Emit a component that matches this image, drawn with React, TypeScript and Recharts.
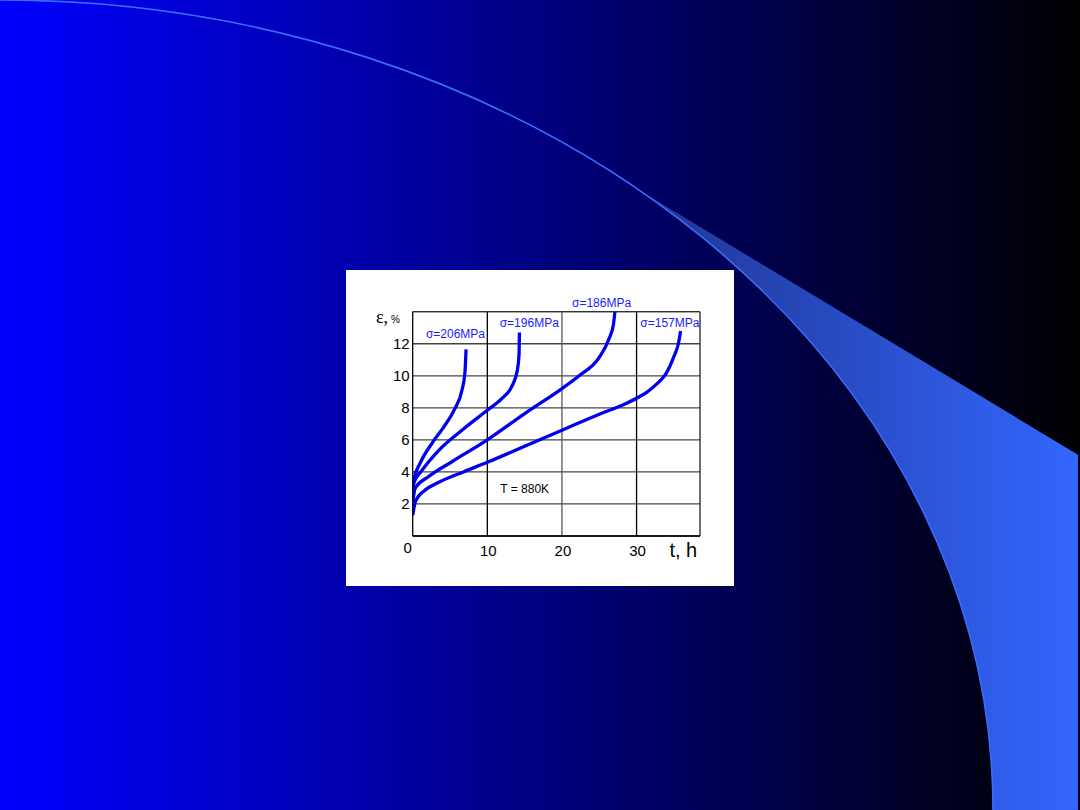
import React from 'react';
import { LineChart, Line, XAxis, YAxis, CartesianGrid, ReferenceLine, ReferenceDot } from 'recharts';

// creep curves at T = 880K: time t (h) vs strain eps (%)
const t206 = [0, 0.13, 1.0, 2.6, 4.15, 5.6, 6.6, 7.0, 7.15];
const e206 = [2.8, 3.5, 4.55, 5.8, 6.8, 7.9, 9.1, 10.2, 11.65];

const t196 = [0, 0.15, 1.25, 3.5, 6.6, 10, 12, 13.3, 14.0, 14.25, 14.3];
const e196 = [2.6, 3.3, 4.1, 5.35, 6.6, 7.85, 8.6, 9.35, 10.3, 11.3, 12.7];

const t186 = [0, 0.35, 2.1, 5.3, 10, 15.2, 20, 22.3, 25, 26.3, 26.9, 27.1];
const e186 = [2.1, 3.0, 3.7, 4.65, 6.0, 7.7, 9.2, 10.0, 11.15, 12.3, 13.2, 14.0];

const t157 = [0, 0.4, 1.5, 3.5, 6.8, 10, 15, 20, 25, 28, 30, 31.3, 32.6, 33.9, 35, 35.6, 35.9];
const e157 = [1.3, 2.2, 2.8, 3.35, 4.0, 4.6, 5.6, 6.6, 7.6, 8.15, 8.6, 8.95, 9.45, 10.1, 11.2, 12.0, 12.8];

const xTicks = [0, 10, 20, 30];
const yTicks = [2, 4, 6, 8, 10, 12];
const xGrid = [10, 20, 30];

const toRows = (t: number[], e: number[]) => t.map((v, i) => ({ t: v, e: e[i] }));

const series = [
  { name: '206', data: toRows(t206, e206) },
  { name: '196', data: toRows(t196, e196) },
  { name: '186', data: toRows(t186, e186) },
  { name: '157', data: toRows(t157, e157) },
];

const FONT = '"Liberation Sans", Arial, sans-serif';
const LINE_BLUE = '#0000ee';
const LABEL_BLUE = '#1a1aff';

const XTick = (props: any) => {
  const { x, y, payload } = props;
  const isZero = payload.value === 0;
  return (
    <text
      x={x + (isZero ? -5 : 1)}
      y={y + (isZero ? 17 : 20)}
      textAnchor="middle"
      fontFamily={FONT}
      fontSize={15}
      fill="#000"
    >
      {payload.value}
    </text>
  );
};

const YTick = (props: any) => {
  const { x, y, payload } = props;
  return (
    <text x={x - 3} y={y + 5.5} textAnchor="end" fontFamily={FONT} fontSize={15} fill="#000">
      {payload.value}
    </text>
  );
};

const textShape = (text: string, size: number, color: string) => (p: any) => (
  <text x={p.cx} y={p.cy} textAnchor="middle" fontFamily={FONT} fontSize={size} fill={color}>
    {text}
  </text>
);

const epsShape = (p: any) => (
  <text x={p.cx} y={p.cy} fontFamily={FONT} fill="#000">
    <tspan fontFamily='"Liberation Serif", serif' fontSize={18}>ε,</tspan>
    <tspan fontSize={10} dx={3}>%</tspan>
  </text>
);

export default function App() {
  return (
    <div
      style={{
        position: 'absolute',
        left: 0,
        top: 0,
        width: 1080,
        height: 810,
        overflow: 'hidden',
        background: 'linear-gradient(to right, #0000ff 0%, #000000 100%)',
      }}
    >
      {/* slide decoration */}
      <svg width={1080} height={810} style={{ position: 'absolute', left: 0, top: 0 }}>
        <defs>
          <linearGradient id="swoosh" gradientUnits="userSpaceOnUse" x1="640" y1="0" x2="1080" y2="0">
            <stop offset="0%" stopColor="#1f3590" />
            <stop offset="100%" stopColor="#3366ff" />
          </linearGradient>
        </defs>
        <path d="M640,190.7 L1080,456 L1080,810 L993,810 A993,810 0 0 0 640,190.7 Z" fill="url(#swoosh)" />
        <path d="M0,0 A993,810 0 0 1 993,810" fill="none" stroke="#3a6cff" strokeWidth={1.6} />
        <rect x={1078} y={440} width={2} height={370} fill="#000010" />
      </svg>

      <div style={{ position: 'absolute', left: 346, top: 270, width: 388, height: 316, background: '#fff' }}>
        <LineChart width={388} height={316} margin={{ top: 41.7, right: 34, bottom: 20, left: 26.7 }}>
          <CartesianGrid vertical={false} stroke="#444" strokeWidth={1.3} />
          {xGrid.map((v) => (
            <ReferenceLine key={v} x={v} stroke={v === 20 ? '#555' : '#000'} strokeWidth={1.3} />
          ))}
          <ReferenceLine y={14} stroke="#333" strokeWidth={1.3} />
          <ReferenceLine x={38.5} stroke="#222" strokeWidth={1.3} />
          <XAxis
            dataKey="t"
            type="number"
            domain={[0, 38.5]}
            ticks={xTicks}
            allowDataOverflow
            height={30}
            tickLine={false}
            tickSize={0}
            tickMargin={0}
            axisLine={{ stroke: '#000', strokeWidth: 1.3 }}
            tick={<XTick />}
          />
          <YAxis
            type="number"
            domain={[0, 14]}
            ticks={yTicks}
            allowDataOverflow
            width={40}
            tickLine={false}
            tickSize={0}
            tickMargin={0}
            axisLine={{ stroke: '#000', strokeWidth: 1.3 }}
            tick={<YTick />}
          />
          {series.map((s) => (
            <Line
              key={s.name}
              data={s.data}
              dataKey="e"
              type="monotone"
              dot={false}
              stroke={LINE_BLUE}
              strokeWidth={3.3}
              isAnimationActive={false}
            />
          ))}
          <ReferenceDot x={5.73} y={12.38} r={0} ifOverflow="visible" shape={textShape('σ=206MPa', 12, LABEL_BLUE)} />
          <ReferenceDot x={15.62} y={13.07} r={0} ifOverflow="visible" shape={textShape('σ=196MPa', 12, LABEL_BLUE)} />
          <ReferenceDot x={25.31} y={14.31} r={0} ifOverflow="visible" shape={textShape('σ=186MPa', 12, LABEL_BLUE)} />
          <ReferenceDot x={34.46} y={13.07} r={0} ifOverflow="visible" shape={textShape('σ=157MPa', 12, LABEL_BLUE)} />
          <ReferenceDot x={15.01} y={2.68} r={0} ifOverflow="visible" shape={textShape('T = 880K', 12, '#000')} />
          <ReferenceDot x={36.27} y={-1.31} r={0} ifOverflow="visible" shape={textShape('t, h', 20, '#000')} />
          <ReferenceDot x={-4.91} y={13.3} r={0} ifOverflow="visible" shape={epsShape} />
        </LineChart>
      </div>
    </div>
  );
}
